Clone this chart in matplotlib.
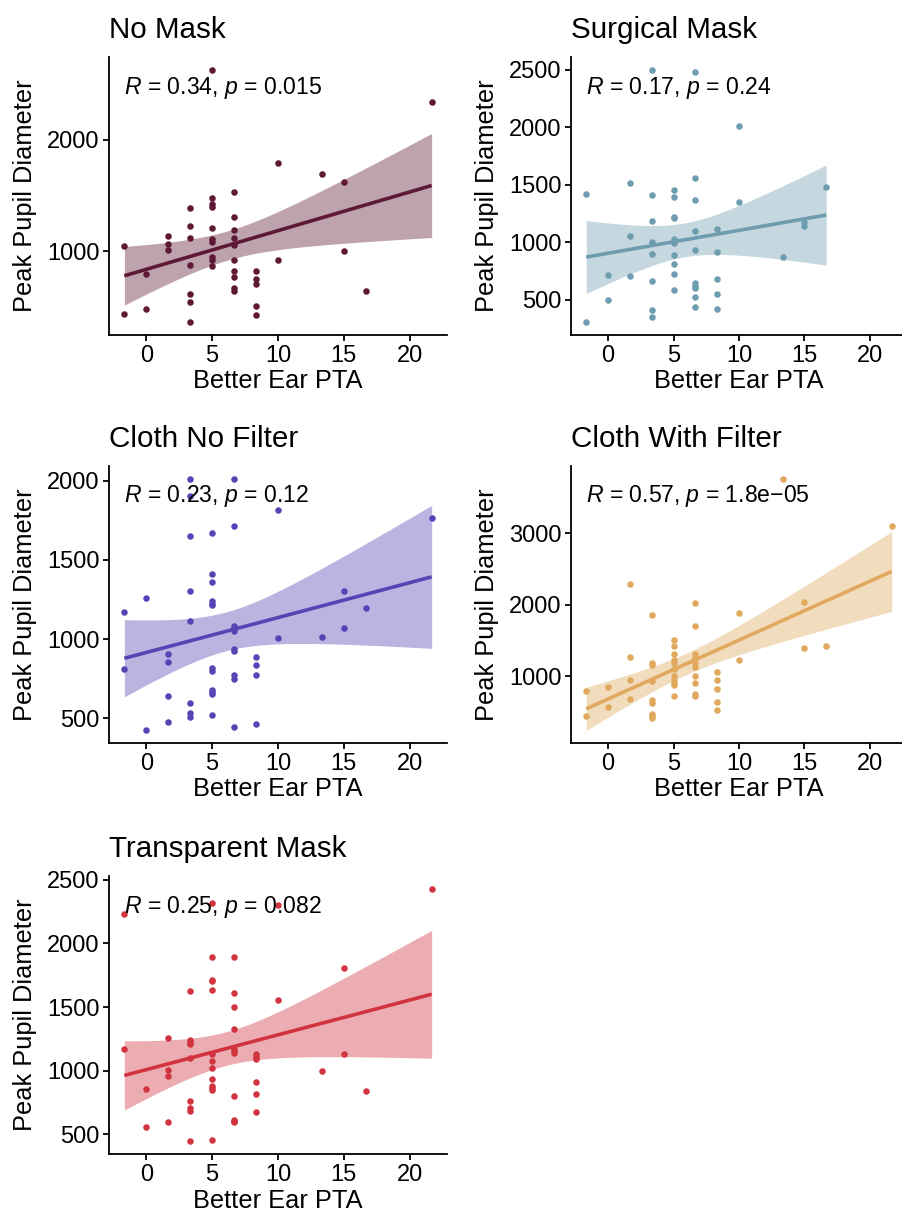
import numpy as np
import matplotlib
matplotlib.use("Agg")
import matplotlib.pyplot as plt
import matplotlib.transforms as mtransforms

plt.rcParams['font.family'] = ['Liberation Sans', 'DejaVu Sans']
plt.rcParams['mathtext.fontset'] = 'custom'
plt.rcParams['mathtext.rm'] = 'Liberation Sans'
plt.rcParams['mathtext.it'] = 'Liberation Sans:italic'

# Better Ear PTA levels (multiples of 5/3 dB)
xl = [-5/3, 0, 5/3, 10/3, 5, 20/3, 25/3, 10, 40/3, 15, 50/3, 65/3]

# peak pupil diameter values per PTA level, one dict per mask condition
no_mask = {
    -5/3: [1045, 442], 0: [794, 487], 5/3: [1140, 1063, 1009],
    10/3: [1391, 1230, 1119, 875, 621, 549, 364],
    5: [2627, 1481, 1421, 1397, 1206, 1113, 1084, 949, 919, 869],
    20/3: [1528, 1310, 1188, 1116, 1060, 919, 821, 767, 669, 645],
    25/3: [821, 755, 707, 513, 433], 10: [1794, 922], 40/3: [1690],
    15: [1618, 1003], 50/3: [645], 65/3: [2340],
}
surgical = {
    -5/3: [1417, 301], 0: [716, 499], 5/3: [1510, 1055, 704],
    10/3: [2501, 1414, 1180, 1000, 896, 658, 406, 348],
    5: [1452, 1394, 1217, 1206, 1029, 994, 887, 806, 725, 583],
    20/3: [2481, 1554, 1365, 1096, 933, 643, 620, 597, 519, 438],
    25/3: [1116, 913, 681, 545, 417], 10: [2014, 1348], 40/3: [870],
    15: [1177, 1139], 50/3: [1481],
}
cloth_nf = {
    -5/3: [1170, 809], 0: [1260, 423], 5/3: [908, 853, 639, 474],
    10/3: [2013, 1901, 1648, 1304, 1115, 595, 532, 507],
    5: [1667, 1411, 1361, 1237, 1224, 1212, 818, 801, 679, 667, 654, 522],
    20/3: [2013, 1711, 1082, 1067, 1048, 937, 922, 774, 748, 442],
    25/3: [885, 834, 771, 463], 10: [1816, 1008], 40/3: [1010],
    15: [1306, 1069], 50/3: [1193], 65/3: [1763],
}
cloth_wf = {
    -5/3: [801, 441], 0: [857, 570], 5/3: [2293, 1277, 949, 677],
    10/3: [1864, 1189, 1162, 940, 663, 626, 473, 446, 418],
    5: [1513, 1430, 1319, 1226, 1180, 1106, 1005, 949, 903, 875, 718],
    20/3: [2025, 1702, 1319, 1259, 1189, 1134, 1005, 912, 746, 718],
    25/3: [1055, 949, 820, 635, 529], 10: [1887, 1231], 40/3: [3767],
    15: [2035, 1402], 50/3: [1425], 65/3: [3106],
}
transparent = {
    -5/3: [2234, 1170], 0: [859, 561], 5/3: [1259, 1003, 963, 600],
    10/3: [1627, 1241, 1225, 1209, 1099, 762, 710, 686, 446],
    5: [2320, 1897, 1716, 1703, 1638, 1128, 1073, 1021, 935, 882, 861, 846, 456],
    20/3: [1892, 1607, 1499, 1327, 1170, 1154, 1136, 799, 613, 603, 595],
    25/3: [1131, 1112, 1094, 911, 820, 673], 10: [2302, 1552], 40/3: [997],
    15: [1810, 1128], 50/3: [838], 65/3: [2430],
}

titles = ["No Mask", "Surgical Mask", "Cloth No Filter", "Cloth With Filter", "Transparent Mask"]
datasets = [no_mask, surgical, cloth_nf, cloth_wf, transparent]
colors = ["#5E1A35", "#6F9DB0", "#5744B4", "#E0A95E", "#D1343F"]
labels = [r"$\mathit{R}$ = 0.34, $\mathit{p}$ = 0.015",
          r"$\mathit{R}$ = 0.17, $\mathit{p}$ = 0.24",
          r"$\mathit{R}$ = 0.23, $\mathit{p}$ = 0.12",
          r"$\mathit{R}$ = 0.57, $\mathit{p}$ = 1.8e$-$05",
          r"$\mathit{R}$ = 0.25, $\mathit{p}$ = 0.082"]
yticks = [[1000, 2000], [500, 1000, 1500, 2000, 2500], [500, 1000, 1500, 2000],
          [1000, 2000, 3000], [500, 1000, 1500, 2000, 2500]]


def flatten(d):
    xs, ys = [], []
    for k in xl:
        for v in d.get(k, []):
            xs.append(k)
            ys.append(v)
    return np.array(xs), np.array(ys, dtype=float)


def lm_band(x, y, t=2.01):
    n = len(x)
    b1, b0 = np.polyfit(x, y, 1)
    resid = y - (b0 + b1 * x)
    s = np.sqrt(np.sum(resid ** 2) / (n - 2))
    xg = np.linspace(x.min(), x.max(), 80)
    se = s * np.sqrt(1 / n + (xg - x.mean()) ** 2 / np.sum((x - x.mean()) ** 2))
    fit = b0 + b1 * xg
    return xg, fit, fit - t * se, fit + t * se


W, H = 903, 1217
fig = plt.figure(figsize=(W / 100, H / 100), dpi=100)

# axes boxes in pixels: left, top, right, bottom
cols = [(109, 447), (571, 907)]
rows = [(57, 335), (466, 743), (876, 1154)]

xmin_all, xmax_all = min(xl), max(xl)
xpad = 0.05 * (xmax_all - xmin_all)

for i, (d, title, col, lab, yt) in enumerate(zip(datasets, titles, colors, labels, yticks)):
    r, c = divmod(i, 2)
    l, rr = cols[c]
    t, b = rows[r]
    ax = fig.add_axes([l / W, 1 - b / H, (rr - l) / W, (b - t) / H])

    x, y = flatten(d)
    xg, fit, lo, hi = lm_band(x, y)
    ax.fill_between(xg, lo, hi, color=col, alpha=0.4, lw=0)
    ax.plot(xg, fit, color=col, lw=2.6, solid_capstyle='butt')
    ax.scatter(x, y, s=22, color=col, lw=0, zorder=3)

    ymin = min(y.min(), lo.min())
    ymax = max(y.max(), hi.max())
    ypad = 0.05 * (ymax - ymin)
    ax.set_ylim(ymin - ypad, ymax + ypad)
    ax.set_xlim(xmin_all - xpad, xmax_all + xpad)
    ax.set_xticks([0, 5, 10, 15, 20])
    ax.set_yticks(yt)

    for s in ['top', 'right']:
        ax.spines[s].set_visible(False)
    for s in ['left', 'bottom']:
        ax.spines[s].set_linewidth(1.3)
    ax.tick_params(labelsize=17, length=4, width=1.3, color='black', pad=3)

    ax.set_xlabel("Better Ear PTA", fontsize=18.3, labelpad=2)
    ax.set_ylabel("Peak Pupil Diameter", fontsize=18.3, labelpad=7)
    ax.set_title(title, loc='left', fontsize=21.3, pad=14)

    trans = mtransforms.blended_transform_factory(ax.transData, ax.transAxes)
    ax.text(x.min(), 0.89, lab, transform=trans, fontsize=16.6, va='center', ha='left')

fig.savefig("out.png", dpi=100)
